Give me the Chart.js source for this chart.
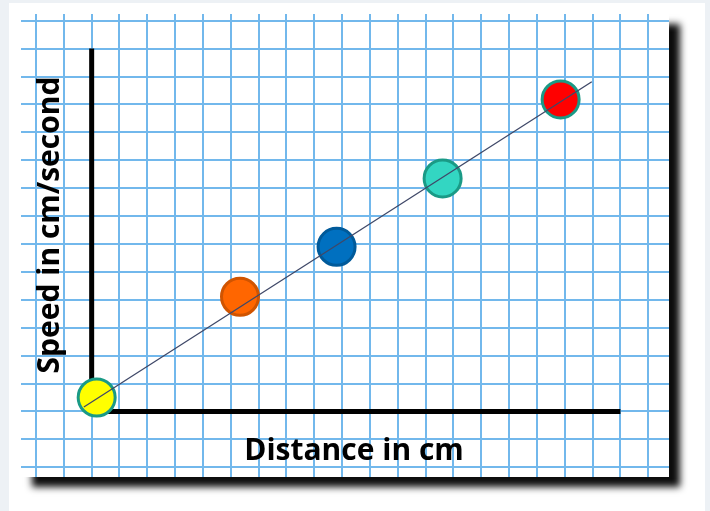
<!DOCTYPE html>
<html>
<head>
<meta charset="utf-8">
<script src="https://cdn.jsdelivr.net/npm/chart.js@4"></script>
<style>
    body { margin: 0; background: #edf1f5; }
    .page { position: absolute; left: 9px; top: 3px; width: 696px; height: 520px; background: #fff; }
    .paper { position: absolute; left: 21px; top: 14px; width: 648px; height: 463px; background: #fff;
             box-shadow: 11px 10px 7px rgba(0, 0, 0, 0.95); }
    #myChart { position: absolute; left: 0; top: 0; }
</style>
</head>
<body>
<div class="page"></div>
<div class="paper"></div>
<canvas id="myChart" width="710" height="511"></canvas>
<script>
// values in grid squares, origin at the corner of the black axes
const xTitle = 'Distance in cm'
const yTitle = 'Speed in cm/second'

const distance = [0.18, 5.33, 8.80, 12.61, 16.85]
const speed = [0.50, 4.11, 5.90, 8.35, 11.18]
const pointColors = ['#ffff00', '#ff6600', '#0070c0', '#33d6c2', '#ff0000']
const pointBorders = ['#1a9a86', '#d05400', '#005a9a', '#1a9a86', '#1a9a86']

const fitX = [-0.28, 17.97]
const fitY = [0.16, 11.81]

const axisX = [0, 0, 19]
const axisY = [13, 0, 0]

const toPoints = (xs, ys) => xs.map((x, i) => ({x: x, y: ys[i]}))

// axis titles sit inside the grid paper
const titlesPlugin = {
    id: 'titles',
    afterDraw(chart) {
        const ctx = chart.ctx
        ctx.save()
        ctx.fillStyle = '#000'
        ctx.font = 'bold 30px "Open Sans"'
        ctx.textAlign = 'center'
        ctx.textBaseline = 'alphabetic'
        ctx.fillText(xTitle, 354, 460)
        ctx.translate(59, 225)
        ctx.rotate(-Math.PI / 2)
        ctx.fillText(yTitle, 0, 0)
        ctx.restore()
    }
}

const ctx = document.getElementById('myChart').getContext('2d')
const myChart = new Chart(ctx, {
    type: 'scatter',
    data: {
        datasets: [{
            type: 'line',
            data: toPoints(fitX, fitY),
            borderColor: '#3f4868',
            borderWidth: 1.3,
            pointRadius: 0,
            fill: false
        }, {
            data: toPoints(distance, speed),
            backgroundColor: pointColors,
            borderColor: pointBorders,
            borderWidth: 3,
            pointRadius: 18.5,
            pointHoverRadius: 18.5
        }, {
            type: 'line',
            data: toPoints(axisX, axisY),
            borderColor: '#000',
            borderWidth: 5,
            borderJoinStyle: 'miter',
            pointRadius: 0,
            fill: false
        }]
    },
    options: {
        responsive: false,
        animation: false,
        layout: {
            autoPadding: false,
            padding: {left: 21, top: 14, right: 41, bottom: 34}
        },
        scales: {
            x: {
                min: -2.539,
                max: 20.744,
                border: { display: false },
                grid: { color: '#72b8ec', lineWidth: 2, drawTicks: false },
                ticks: { display: false, stepSize: 1, includeBounds: false }
            },
            y: {
                min: -2.348,
                max: 14.24,
                border: { display: false },
                grid: { color: '#72b8ec', lineWidth: 2, drawTicks: false },
                ticks: { display: false, stepSize: 1, includeBounds: false }
            }
        },
        plugins: {
            legend: { display: false },
            tooltip: { enabled: false }
        }
    },
    plugins: [titlesPlugin]
})
</script>
</body>
</html>
